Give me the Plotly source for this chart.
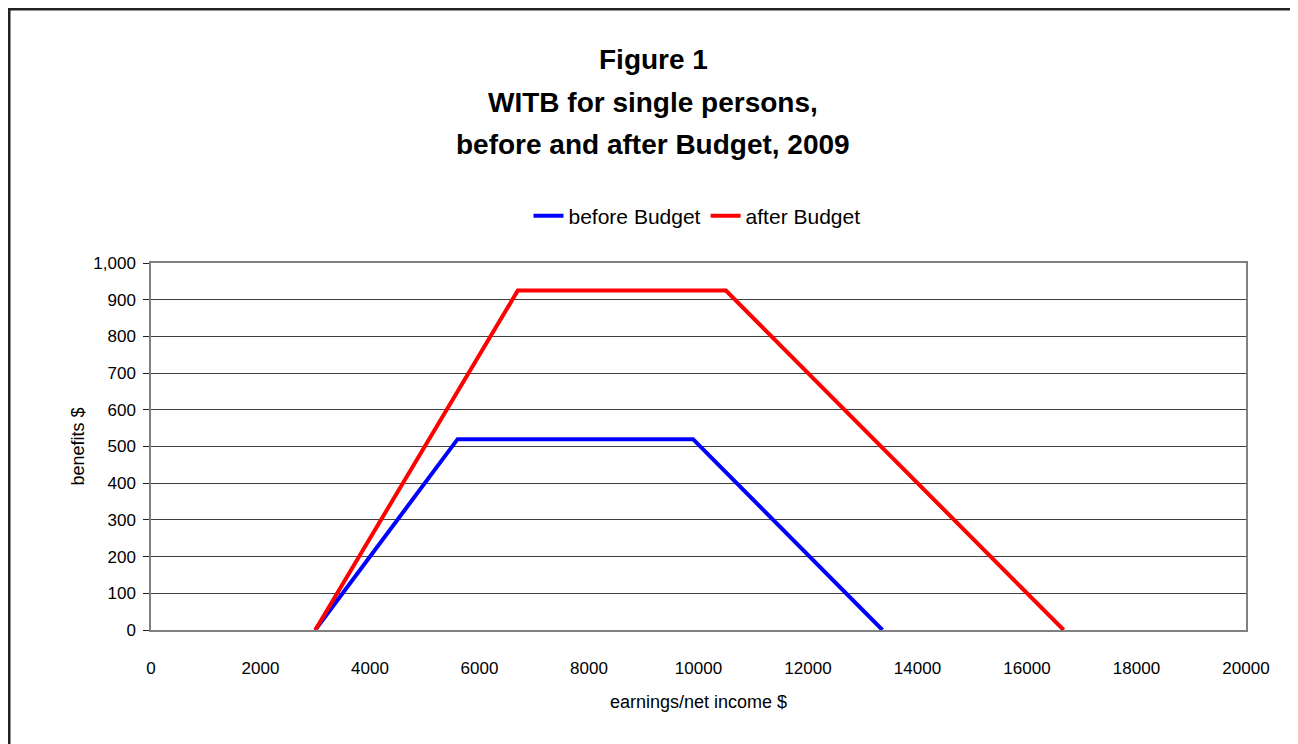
import plotly.graph_objects as go

# Data
before_x = [3000, 5600, 9900, 13360]
before_y = [0, 520, 520, 0]
after_x = [3000, 6700, 10500, 16670]
after_y = [0, 925, 925, 0]

x_ticks = list(range(0, 20001, 2000))
y_ticks = list(range(0, 1001, 100))

title_lines = ["Figure 1", "WITB for single persons,", "before and after Budget, 2009"]

# page has an 8px body margin; work in page coordinates and convert
OFF = 8
W, H = 1290, 736
pl, pr, pt, pb = 151, 1246, 263, 630   # plot area in page px
L, T = pl - OFF, pt - OFF
R = W - (pr - OFF)
B = H - (pb - OFF)
pw, ph = pr - pl, pb - pt


def px(xp):
    return (xp - pl) / pw


def py(yp):
    return (pb - yp) / ph


FONT = "Liberation Sans, Arial, sans-serif"

fig = go.Figure()
fig.add_trace(go.Scatter(x=before_x, y=before_y, mode="lines", name="before Budget",
                         line=dict(color="#0000FF", width=4)))
fig.add_trace(go.Scatter(x=after_x, y=after_y, mode="lines", name="after Budget",
                         line=dict(color="#FF0000", width=4)))

annotations = []
title_y_px = [60, 102, 145]
for txt, ypx in zip(title_lines, title_y_px):
    annotations.append(dict(text="<b>%s</b>" % txt, xref="paper", yref="paper",
                            x=px(653), y=py(ypx),
                            xanchor="center", yanchor="middle", showarrow=False,
                            font=dict(family=FONT, size=28, color="black")))

fig.update_layout(
    width=W, height=H,
    margin=dict(l=L, r=R, t=T, b=B, pad=0),
    paper_bgcolor="white", plot_bgcolor="white",
    font=dict(family=FONT, color="black"),
    annotations=annotations,
    showlegend=True,
    legend=dict(orientation="h", x=px(697), y=py(216),
                xanchor="center", yanchor="middle",
                font=dict(family=FONT, size=21, color="black"),
                itemwidth=30, tracegroupgap=0, bgcolor="rgba(0,0,0,0)"),
    xaxis=dict(range=[0, 20000], tickvals=x_ticks, tickformat="d",
               showgrid=False, zeroline=False, showline=True, mirror=True,
               linecolor="#808080", linewidth=1.5, ticks="",
               ticklabelstandoff=22,
               tickfont=dict(family=FONT, size=17, color="black"),
               title=dict(text="earnings/net income $", standoff=18,
                          font=dict(family=FONT, size=18, color="black"))),
    yaxis=dict(range=[0, 1000], tickvals=y_ticks, tickformat=",d",
               showgrid=True, gridcolor="#404040", gridwidth=1,
               zeroline=False, showline=True, mirror=True,
               linecolor="#808080", linewidth=1.5,
               ticks="outside", ticklen=6, tickcolor="#202020", tickwidth=1,
               ticklabelstandoff=4,
               tickfont=dict(family=FONT, size=17, color="black"),
               title=dict(text="benefits $", standoff=4,
                          font=dict(family=FONT, size=18, color="black"))),
    shapes=[dict(type="rect", xref="paper", yref="paper",
                 x0=px(9), x1=px(1296),
                 y0=py(770), y1=py(9),
                 line=dict(color="#222222", width=3), fillcolor="rgba(0,0,0,0)",
                 layer="below")],
)

fig.write_html("out.html")
